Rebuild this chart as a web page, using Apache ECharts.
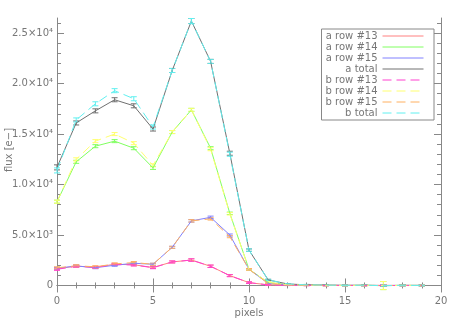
<!DOCTYPE html>
<html>
<head>
<meta charset="utf-8">
<title>flux vs pixels</title>
<script src="https://cdn.jsdelivr.net/npm/echarts@6/dist/echarts.min.js"></script>
<style>
  html, body { margin: 0; padding: 0; background: #fff; }
  #chart { width: 458px; height: 327px; }
</style>
</head>
<body>
<div id="chart"></div>
<script>
// pixel index along x
var pixels = [0,1,2,3,4,5,6,7,8,9,10,11,12,13,14,15,16,17,18,19];

// flux values [e-]
var aRow13 = [1650,1920,1800,2100,2050,1780,2330,2520,1900,980,280,60,20,10,0,0,0,0,0,0];
var aRow14 = [8300,12250,13800,14300,13600,11650,15200,17400,13600,7150,1600,300,80,30,10,0,10,-10,5,0];
var aRow15 = [1700,1930,1760,2000,2200,2100,3780,6400,6750,5000,1600,200,50,20,10,0,5,0,0,0];
var aTotal = [11700,16100,17300,18400,17800,15500,21300,26200,22200,13100,3500,550,150,60,30,10,20,-20,10,0];
var bRow13 = [1600,1900,1800,2080,2030,1760,2330,2520,1900,970,280,50,20,10,0,0,0,0,0,0];
var bRow14 = [8300,12500,14300,15000,14100,11900,15200,17400,13500,7100,1600,300,80,30,10,0,10,-10,5,0];
var bRow15 = [1750,1950,1850,2130,2270,2100,3780,6400,6600,4830,1600,200,50,20,10,0,5,0,0,0];
var bTotal = [11400,16400,18000,19300,18500,15700,21300,26200,22200,13000,3500,550,150,60,30,10,20,-20,10,0];

// error bar half sizes
var errTotal = [250,200,200,200,200,200,200,250,200,200,120,60,40,40,40,40,40,60,40,40];
var errRow14 = [150,150,150,150,150,150,150,150,150,120,80,40,30,30,30,30,30,400,30,30];
var errRow = [100,100,100,100,100,100,100,120,120,100,80,40,30,30,30,30,30,60,30,30];

// axis ticks
var yTicks = [0,5000,10000,15000,20000,25000];
var yTickLabels = ['0','5.0×10³','1.0×10⁴','1.5×10⁴','2.0×10⁴','2.5×10⁴'];
var yMinorTicks = [1000,2000,3000,4000,6000,7000,8000,9000,11000,12000,13000,14000,16000,17000,18000,19000,21000,22000,23000,24000,26000];

var lines = [
  { name: 'a row #13', data: aRow13, err: errRow,   color: '#ff8080', dash: 'solid' },
  { name: 'a row #14', data: aRow14, err: errRow14, color: '#80ff60', dash: 'solid' },
  { name: 'a row #15', data: aRow15, err: errRow,   color: '#8080ff', dash: 'solid' },
  { name: 'a total',   data: aTotal, err: errTotal, color: '#707070', dash: 'solid' },
  { name: 'b row #13', data: bRow13, err: errRow,   color: '#ff40d0', dash: [9,5] },
  { name: 'b row #14', data: bRow14, err: errRow14, color: '#ffff70', dash: [9,5] },
  { name: 'b row #15', data: bRow15, err: errRow,   color: '#ffb060', dash: [9,5] },
  { name: 'b total',   data: bTotal, err: errTotal, color: '#60f0f0', dash: [9,5] }
];

var axisGray = '#888';
var textGray = '#777';
var font = 'DejaVu Sans';

function errRender(color) {
  return function (params, api) {
    var x = api.value(0);
    var lo = api.coord([x, api.value(1)]);
    var hi = api.coord([x, api.value(2)]);
    var w = 3;
    var st = { stroke: color, lineWidth: 1 };
    return {
      type: 'group',
      children: [
        { type: 'line', shape: { x1: lo[0], y1: lo[1], x2: hi[0], y2: hi[1] }, style: st },
        { type: 'line', shape: { x1: lo[0] - w, y1: lo[1], x2: lo[0] + w, y2: lo[1] }, style: st },
        { type: 'line', shape: { x1: hi[0] - w, y1: hi[1], x2: hi[0] + w, y2: hi[1] }, style: st }
      ]
    };
  };
}

var series = [];
lines.forEach(function (l) {
  series.push({
    name: l.name,
    type: 'line',
    symbol: 'none',
    data: pixels.map(function (p, i) { return [p, l.data[i]]; }),
    lineStyle: { color: l.color, width: 1, type: l.dash },
    itemStyle: { color: l.color },
    silent: true
  });
  series.push({
    name: l.name + ' err',
    type: 'custom',
    renderItem: errRender(l.color),
    data: pixels.map(function (p, i) { return [p, l.data[i] - l.err[i], l.data[i] + l.err[i]]; }),
    silent: true
  });
});

function yAxisDef(pos, minor) {
  return {
    type: 'value', position: pos, min: -450, max: 26500,
    name: (pos === 'left' && !minor) ? 'flux [e−]' : '',
    nameLocation: 'middle', nameGap: 43, nameMoveOverlap: false,
    nameTextStyle: { color: textGray, fontFamily: font, fontSize: 10, padding: [0, 0, 0, 8] },
    axisLine: { show: !minor, lineStyle: { color: axisGray } },
    axisTick: { show: true, inside: true, length: minor ? 4 : 7,
      customValues: minor ? yMinorTicks : yTicks, lineStyle: { color: axisGray } },
    axisLabel: { show: pos === 'left' && !minor, customValues: yTicks, margin: 4,
      color: textGray, fontFamily: font, fontSize: 10,
      formatter: function (v) { return yTickLabels[yTicks.indexOf(v)]; } },
    splitLine: { show: false }
  };
}

function xAxisDef(pos) {
  return {
    type: 'value', position: pos, min: 0, max: 20, interval: 5,
    name: pos === 'bottom' ? 'pixels' : '',
    nameLocation: 'middle', nameGap: 18, nameMoveOverlap: false,
    nameTextStyle: { color: textGray, fontFamily: font, fontSize: 10 },
    axisLine: { lineStyle: { color: axisGray } },
    axisTick: { inside: true, length: 7, lineStyle: { color: axisGray } },
    minorTick: { show: true, splitNumber: 5, length: 3, lineStyle: { color: axisGray } },
    axisLabel: { show: pos === 'bottom', margin: 6, color: textGray, fontFamily: font, fontSize: 10 },
    splitLine: { show: false },
    minorSplitLine: { show: false }
  };
}

var chart = echarts.init(document.getElementById('chart'), null, { renderer: 'canvas' });
chart.setOption({
  animation: false,
  backgroundColor: '#fff',
  grid: { left: 57, right: 17, top: 18, bottom: 37, outerBoundsMode: 'none' },
  xAxis: [xAxisDef('bottom'), xAxisDef('top')],
  yAxis: [yAxisDef('left', false), yAxisDef('left', true), yAxisDef('right', false), yAxisDef('right', true)],
  legend: {
    data: lines.map(function (l) { return l.name; }),
    orient: 'vertical', right: 24, top: 29, align: 'right',
    itemWidth: 41, itemHeight: 10, itemGap: 1,
    padding: [2, 10, 2, 4],
    borderColor: axisGray, borderWidth: 1,
    itemStyle: { opacity: 0 },
    lineStyle: { width: 1 },
    textStyle: { color: textGray, fontFamily: font, fontSize: 10, lineHeight: 10, width: 52, align: 'right' },
    selectedMode: false
  },
  series: series
});
</script>
</body>
</html>
